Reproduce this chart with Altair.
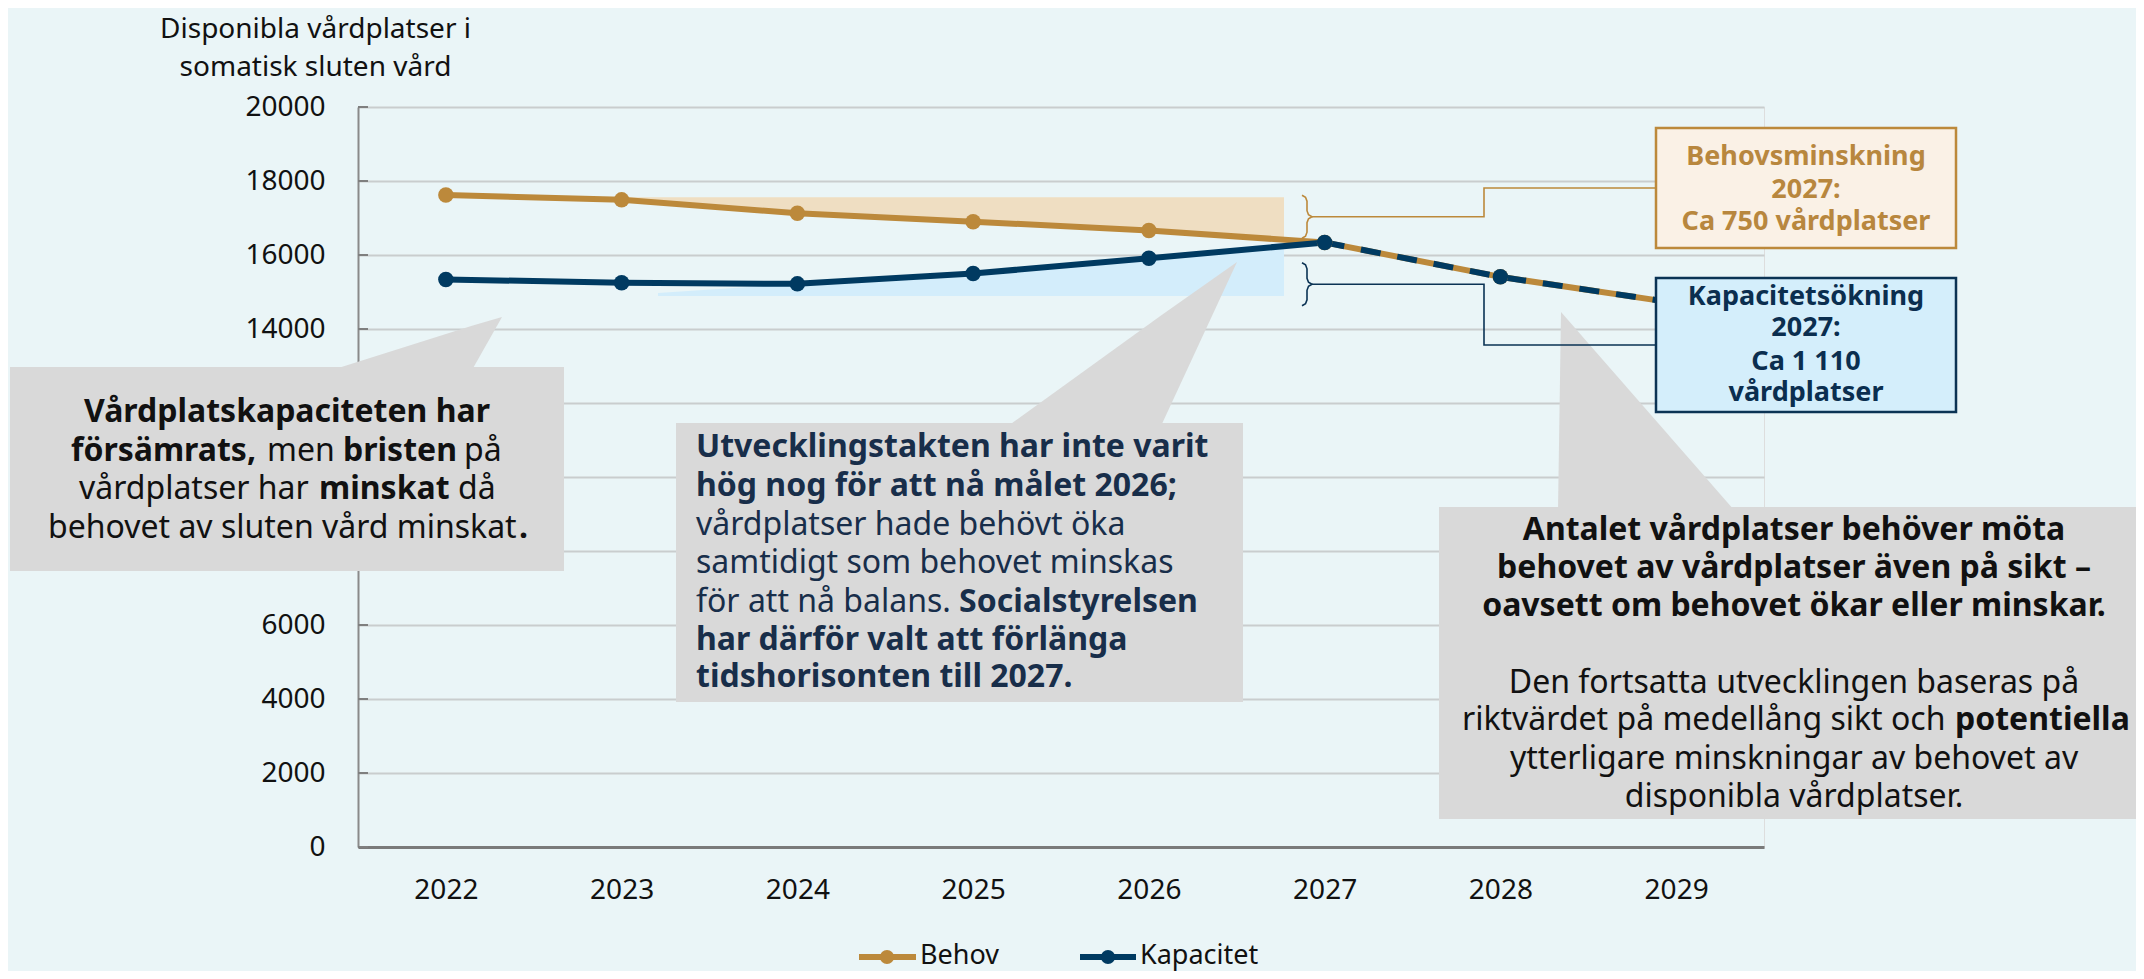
import altair as alt
import pandas as pd
import numpy as np

# ---------------- data ----------------
years = [2022, 2023, 2024, 2025, 2026, 2027, 2028, 2029]
behov = [17620, 17490, 17130, 16900, 16660, 16340, 15410, 14700]
kapacitet = [15340, 15250, 15220, 15500, 15910, 16340, 15410, 14700]
series_names = ["Behov", "Kapacitet"]
forecast_start = 2027
y_ticks = list(range(0, 20001, 2000))
y_title = ["Disponibla vårdplatser i", "somatisk sluten vård"]

# ---------------- styles ----------------
GOLD = "#BC893B"
NAVY = "#003A61"
TXT_NAVY = "#182E4A"
BEIGE = "#EFDEC2"
LBLUE = "#D3EDFB"
GRAY = "#D9D9D9"
BG = "#EAF5F7"
FONT = "Noto Sans"

# layout (page pixels) used to place annotations
PLOT_L, PLOT_T, PLOT_W, PLOT_H = 358, 107, 1406, 740
X0, X1 = 2021.5, 2029.5
Y0, Y1 = 0, 20000


def ax(px):
    return X0 + (px - PLOT_L) / PLOT_W * (X1 - X0)


def ay(py):
    return Y1 - (py - PLOT_T) / PLOT_H * (Y1 - Y0)


xs = alt.Scale(domain=[X0, X1], nice=False, zero=False)
ys = alt.Scale(domain=[Y0, Y1], nice=False, zero=False)

XAX = alt.Axis(
    values=years, format="d", grid=False, ticks=False, tickSize=0,
    labelPadding=29, labelFontSize=28, labelColor="#111111", labelFont=FONT,
    domainColor="#7A7A7A", domainWidth=3, title=None, labelFlush=False)
# labels 8000-12000 sit behind the left callout box in the original
YAX = alt.Axis(
    values=y_ticks, format="d", grid=True, gridColor="#C9CDCE", gridWidth=2,
    domainColor="#8A8A8A", domainWidth=2, ticks=False, tickSize=0,
    labelPadding=33, labelFontSize=28, labelColor="#111111", labelFont=FONT,
    labelExpr="(datum.value >= 8000 && datum.value <= 12000) ? '' : datum.label",
    title=y_title, titleAngle=0, titleX=-43, titleY=-92, titleAlign="center",
    titleBaseline="top", titleFontSize=28, titleFontWeight="normal",
    titleColor="#111111", titleFont=FONT, titleLineHeight=38)


def X(f):
    return alt.X(f, type="quantitative", scale=xs, axis=XAX)


def Y(f):
    return alt.Y(f, type="quantitative", scale=ys, axis=YAX)


def X2(f):
    return alt.X2(f)


def Y2(f):
    return alt.Y2(f)


df = pd.DataFrame({"year": years, "Behov": behov, "Kapacitet": kapacitet})

# ---------------- shaded areas ----------------
bx = [2023, 2024, 2025, 2026, ax(1284)]
beige_df = pd.DataFrame({"x": bx, "y": np.interp(bx, years, behov), "y2": ay(197.3)})
kx = [ax(658), 2024, 2025, 2026, ax(1284)]
ky = list(np.interp(kx, years, kapacitet))
ky[0] = ay(293)
blue_df = pd.DataFrame({"x": kx, "y": ky, "y2": ay(296)})

beige = alt.Chart(beige_df).mark_area(color=BEIGE, opacity=1).encode(
    x=X("x"), y=Y("y"), y2=Y2("y2"))
blue = alt.Chart(blue_df).mark_area(color=LBLUE, opacity=1).encode(
    x=X("x"), y=Y("y"), y2=Y2("y2"))

tick_df = pd.DataFrame({"v": y_ticks, "x": X0, "x2": ax(368)})
inner_ticks = alt.Chart(tick_df).mark_rule(color="#7F7F7F", strokeWidth=2).encode(
    x=X("x"), x2=X2("x2"), y=Y("v"))

# ---------------- series ----------------
hist = df[df.year <= forecast_start]
fut = df[df.year >= forecast_start]

behov_line = alt.Chart(df).mark_line(color=GOLD, strokeWidth=6).encode(
    x=X("year"), y=Y("Behov"))
kap_line = alt.Chart(hist).mark_line(color=NAVY, strokeWidth=6).encode(
    x=X("year"), y=Y("Kapacitet"))
kap_dash = alt.Chart(fut).mark_line(color=NAVY, strokeWidth=6, strokeDash=[20, 17]).encode(
    x=X("year"), y=Y("Kapacitet"))
behov_pts = alt.Chart(df).mark_circle(color=GOLD, size=240, opacity=1).encode(
    x=X("year"), y=Y("Behov"))
kap_pts = alt.Chart(df).mark_circle(color=NAVY, size=240, opacity=1).encode(
    x=X("year"), y=Y("Kapacitet"))

# ---------------- callouts ----------------
rects = pd.DataFrame([
    (10, 367, 564, 571),
    (676, 423, 1243, 702),
    (1439, 507, 2160, 819),
], columns=["l", "t", "r", "b"])
rects = pd.DataFrame({"x": rects.l.map(ax), "x2": rects.r.map(ax),
                      "y": rects.t.map(ay), "y2": rects.b.map(ay)})
gray_rects = alt.Chart(rects).mark_rect(color=GRAY, opacity=1).encode(
    x=X("x"), x2=X2("x2"), y=Y("y"), y2=Y2("y2"))

tri_pts = [
    ("a", 332, 370, 370), ("a", 472, 325.8, 370), ("a", 502, 317, 317),
    ("b", 1008, 426, 426), ("b", 1161, 315.4, 426), ("b", 1237, 262, 262),
    ("c", 1558, 510, 510), ("c", 1561, 312, 510), ("c", 1734, 510, 510),
]
tri_df = pd.DataFrame({"id": [t[0] for t in tri_pts], "x": [ax(t[1]) for t in tri_pts],
                       "y": [ay(t[2]) for t in tri_pts], "y2": [ay(t[3]) for t in tri_pts]})
gray_tris = alt.Chart(tri_df).mark_area(color=GRAY, opacity=1).encode(
    x=X("x"), y=Y("y"), y2=Y2("y2"), detail="id:N")

box1 = alt.Chart(pd.DataFrame({"x": [ax(1656)], "x2": [ax(1956)], "y": [ay(128)], "y2": [ay(248)]})
                 ).mark_rect(fill="#FAF1E6", stroke=GOLD, strokeWidth=2.5).encode(
    x=X("x"), x2=X2("x2"), y=Y("y"), y2=Y2("y2"))
box2 = alt.Chart(pd.DataFrame({"x": [ax(1656)], "x2": [ax(1956)], "y": [ay(278)], "y2": [ay(412)]})
                 ).mark_rect(fill="#D4EEFB", stroke="#0B3354", strokeWidth=2.5).encode(
    x=X("x"), x2=X2("x2"), y=Y("y"), y2=Y2("y2"))


def brace(cy, half):
    t, b = cy - half, cy + half
    pts = [(1302, t), (1305.5, t + 2), (1307, t + 6), (1307, cy - 6), (1308.5, cy - 2),
           (1312, cy), (1308.5, cy + 2), (1307, cy + 6), (1307, b - 6), (1305.5, b - 2), (1302, b)]
    return pts


conn = []
for cid, cy, half, ty in [("g", 216.7, 21.5, 188), ("n", 284.3, 21.5, 345)]:
    pts = brace(cy, half)
    for i, (px, py) in enumerate(pts):
        conn.append((cid + "b", i, px, py))
    for i, (px, py) in enumerate([(1312, cy), (1484, cy), (1484, ty), (1656, ty)]):
        conn.append((cid + "c", i, px, py))
conn_df = pd.DataFrame({"id": [c[0] for c in conn], "o": [c[1] for c in conn],
                        "x": [ax(c[2]) for c in conn], "y": [ay(c[3]) for c in conn]})
gold_conn = alt.Chart(conn_df[conn_df.id.str.startswith("g")]).mark_line(
    color=GOLD, strokeWidth=1.6).encode(x=X("x"), y=Y("y"), detail="id:N", order="o:Q")
navy_conn = alt.Chart(conn_df[conn_df.id.str.startswith("n")]).mark_line(
    color="#0B3354", strokeWidth=1.6).encode(x=X("x"), y=Y("y"), detail="id:N", order="o:Q")

# ---------------- texts ----------------
FS = 32
styles = {
    "kb_c": dict(fontSize=FS, fontWeight="bold", color="#111111", align="center"),
    "kr_c": dict(fontSize=FS, fontWeight="normal", color="#111111", align="center"),
    "kb_l": dict(fontSize=FS, fontWeight="bold", color="#111111", align="left"),
    "kr_l": dict(fontSize=FS, fontWeight="normal", color="#111111", align="left"),
    "nb_l": dict(fontSize=FS, fontWeight="bold", color=TXT_NAVY, align="left"),
    "nr_l": dict(fontSize=FS, fontWeight="normal", color=TXT_NAVY, align="left"),
    "gb_c": dict(fontSize=27, fontWeight="bold", color="#B8873E", align="center"),
    "bb_c": dict(fontSize=27, fontWeight="bold", color="#0B2E4F", align="center"),
    "leg": dict(fontSize=27, fontWeight="normal", color="#111111", align="left"),
}

texts = [
    # left callout
    ("Vårdplatskapaciteten har", 287, 412, "kb_c"),
    ("försämrats,", 71, 451, "kb_l"), ("men", 267, 451, "kr_l"),
    ("bristen", 343, 451, "kb_l"), ("på", 464, 451, "kr_l"),
    ("vårdplatser har", 79, 489, "kr_l"), ("minskat", 319, 489, "kb_l"), ("då", 458, 489, "kr_l"),
    ("behovet av sluten vård minskat", 48, 528, "kr_l"), (".", 519, 528, "kb_l"),
    # middle callout
    ("Utvecklingstakten har inte varit", 696, 447, "nb_l"),
    ("hög nog för att nå målet 2026;", 696, 486, "nb_l"),
    ("vårdplatser hade behövt öka", 696, 525, "nr_l"),
    ("samtidigt som behovet minskas", 696, 563, "nr_l"),
    ("för att nå balans.", 696, 602, "nr_l"), ("Socialstyrelsen", 959, 602, "nb_l"),
    ("har därför valt att förlänga", 696, 640, "nb_l"),
    ("tidshorisonten till 2027.", 696, 677, "nb_l"),
    # right callout
    ("Antalet vårdplatser behöver möta", 1794, 530, "kb_c"),
    ("behovet av vårdplatser även på sikt –", 1794, 568, "kb_c"),
    ("oavsett om behovet ökar eller minskar.", 1794, 606, "kb_c"),
    ("Den fortsatta utvecklingen baseras på", 1794, 683, "kr_c"),
    ("riktvärdet på medellång sikt och", 1462, 720, "kr_l"), ("potentiella", 1955, 720, "kb_l"),
    ("ytterligare minskningar av behovet av", 1794, 759, "kr_c"),
    ("disponibla vårdplatser.", 1794, 797, "kr_c"),
    # value boxes
    ("Behovsminskning", 1806, 157, "gb_c"), ("2027:", 1806, 190, "gb_c"),
    ("Ca 750 vårdplatser", 1806, 222, "gb_c"),
    ("Kapacitetsökning", 1806, 297, "bb_c"), ("2027:", 1806, 328, "bb_c"),
    ("Ca 1 110", 1806, 362, "bb_c"), ("vårdplatser", 1806, 393, "bb_c"),
    # legend labels
    (series_names[0], 920, 956, "leg"), (series_names[1], 1140, 956, "leg"),
]
tdf = pd.DataFrame({"text": [t[0] for t in texts], "x": [ax(t[1]) for t in texts],
                    "y": [ay(t[2]) for t in texts], "s": [t[3] for t in texts]})
text_layers = []
for s, st in styles.items():
    sub = tdf[tdf.s == s]
    if len(sub) == 0:
        continue
    text_layers.append(alt.Chart(sub).mark_text(font=FONT, baseline="middle", **st).encode(
        x=X("x"), y=Y("y"), text="text:N"))

# ---------------- legend symbols ----------------
leg_df = pd.DataFrame({"name": series_names,
                       "x": [ax(859), ax(1080)], "x2": [ax(916), ax(1136)],
                       "cx": [ax(887), ax(1108)], "y": [ay(957), ay(957)],
                       "c": [GOLD, NAVY]})
leg_rule = alt.Chart(leg_df).mark_rule(strokeWidth=6).encode(
    x=X("x"), x2=X2("x2"), y=Y("y"), color=alt.Color("c:N", scale=None))
leg_pt = alt.Chart(leg_df).mark_circle(size=200, opacity=1).encode(
    x=X("cx"), y=Y("y"), color=alt.Color("c:N", scale=None))

chart = alt.layer(
    beige, blue, inner_ticks,
    behov_line, kap_line, kap_dash, behov_pts, kap_pts,
    gray_tris, gray_rects, box1, box2, gold_conn, navy_conn,
    leg_rule, leg_pt, *text_layers,
).properties(
    width=PLOT_W, height=PLOT_H,
    padding={"left": PLOT_L - 8, "top": PLOT_T - 8, "right": 2128 - (PLOT_L - 8) - PLOT_W,
             "bottom": 963 - (PLOT_T - 8) - PLOT_H},
    autosize=alt.AutoSizeParams(type="none"),
    background=BG,
).configure_view(stroke=None).configure(font=FONT)

chart.save("out.html", embed_options={"renderer": "svg", "actions": False})
